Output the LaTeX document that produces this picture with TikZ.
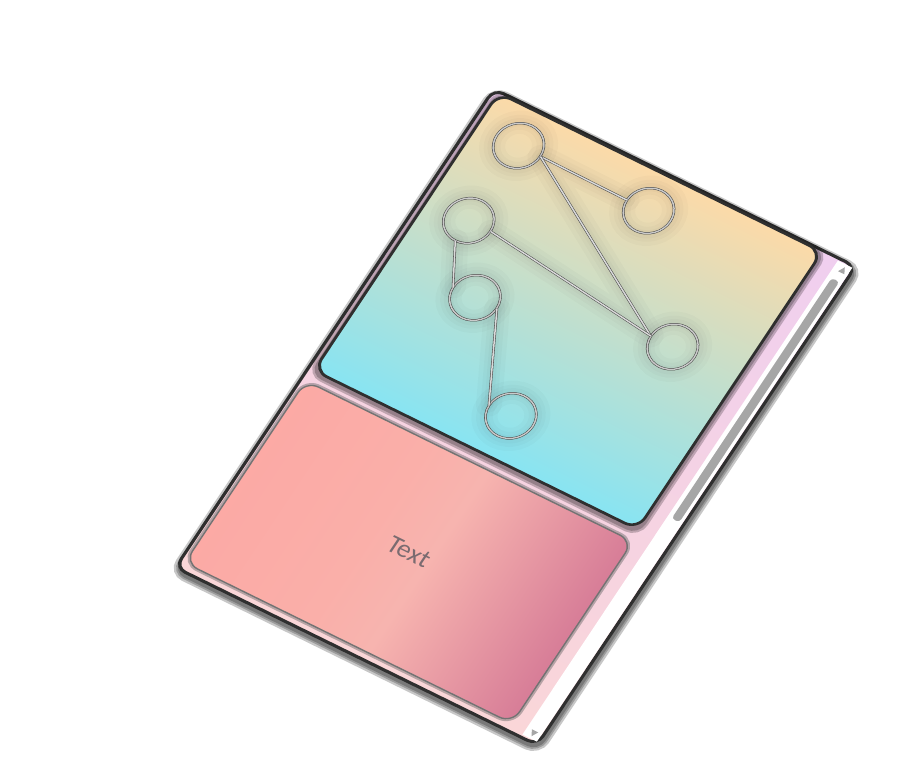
\documentclass[tikz,border=0pt]{standalone}
\usepackage{fontspec}
\newfontfamily\labelfont{Carlito}
\definecolor{peach}{HTML}{FCDAA8}
\definecolor{sage}{HTML}{CFE0C8}
\definecolor{skyc}{HTML}{88E4F2}
\definecolor{salmon}{HTML}{FCA8A4}
\definecolor{salmonlt}{HTML}{FAAFA9}
\definecolor{blush}{HTML}{F7B4AF}
\definecolor{mauve}{HTML}{D17393}
\definecolor{lilac}{HTML}{F0CFEF}
\definecolor{rosebg}{HTML}{FAD6D8}
\definecolor{framec}{HTML}{2F2F2F}
\definecolor{thumbc}{HTML}{A6A6A6}
\definecolor{textc}{HTML}{7A6B70}
\pgfdeclarehorizontalshading{pinkband}{100bp}{color(0bp)=(salmon); color(20bp)=(salmon); color(44bp)=(salmonlt); color(53bp)=(blush); color(79bp)=(mauve); color(100bp)=(mauve)}

\begin{document}
\begin{tikzpicture}[
  vertex/.style={circle,draw=black!70,double=white!85!black,double distance=0.8pt,line width=0.3pt,minimum size=0.96cm,inner sep=0pt},
  link/.style={draw=black!70,double=white!85!black,double distance=0.8pt,line width=0.3pt},
  glow/.style={draw=black,line width=#1,draw opacity=0.02,line cap=round},
  haze/.style={draw=black,line width=#1,draw opacity=0.22,rounded corners=6pt}]
\useasboundingbox (0,0) rectangle (17.98,-15.5);
\begin{scope}[transform canvas={cm={0.9038,-0.4438,0.5539,0.8322,(9.88,-1.78)}}]
\foreach \w in {7,4.5,2.5}
  \draw[haze=\w pt] (0.05,-0.06) rectangle (8.05,-11.56);
\path[draw=framec,line width=1.8pt,rounded corners=6pt,top color=lilac,bottom color=rosebg] (0,0) rectangle (8,-11.5);
\fill[white] (7.64,-0.05) rectangle (7.96,-11.44);
\fill[thumbc,rounded corners=2pt] (7.73,-0.42) rectangle (7.9,-6.2);
\fill[thumbc] (7.76,-0.24) -- (7.9,-0.24) -- (7.83,-0.11) -- cycle;
\fill[thumbc] (7.74,-11.26) -- (7.88,-11.26) -- (7.81,-11.39) -- cycle;
\foreach \w in {6,3.5}
  \draw[haze=\w pt] (0.14,-0.07) rectangle (7.3,-6.74);
\path[draw=framec,line width=1.6pt,rounded corners=8pt,top color=peach,middle color=sage,bottom color=skyc] (0.12,-0.03) rectangle (7.28,-6.7);
\draw[line width=3pt,black!60,draw opacity=0.45,rounded corners=8pt] (0.1,-6.96) rectangle (7.34,-11.33);
\path[draw=black!55,line width=0.8pt,rounded corners=8pt,shading=pinkband] (0.1,-6.96) rectangle (7.34,-11.33);
\node[text=textc,font=\labelfont\fontsize{15}{18}\selectfont] (caption) at (3.72,-9.14) {Text};
\foreach \n/\x/\y in {nw/1.04/-0.81,ne/3.93/-0.83,w/1.04/-2.61,sw/2.0/-3.95,e/5.84/-3.08,s/3.91/-5.77}
  \node[vertex] (\n) at (\x,\y) {};
\foreach \w in {14,9,5}{
  \draw[glow=\w pt] (nw.east) -- (ne.west) (nw.east) -- (e.west) (w.east) -- (e.west) (w.south) -- (sw.west) (sw.east) -- (s.west);
  \foreach \n in {nw,ne,w,sw,e,s}
    \draw[glow=\w pt] (\n) circle[radius=0.5];
}
\draw[link] (nw.east) -- (ne.west);
\draw[link] (nw.east) -- (e.west);
\draw[link] (w.east) -- (e.west);
\draw[link] (w.south) -- (sw.west);
\draw[link] (sw.east) -- (s.west);
\end{scope}
\end{tikzpicture}
\end{document}
